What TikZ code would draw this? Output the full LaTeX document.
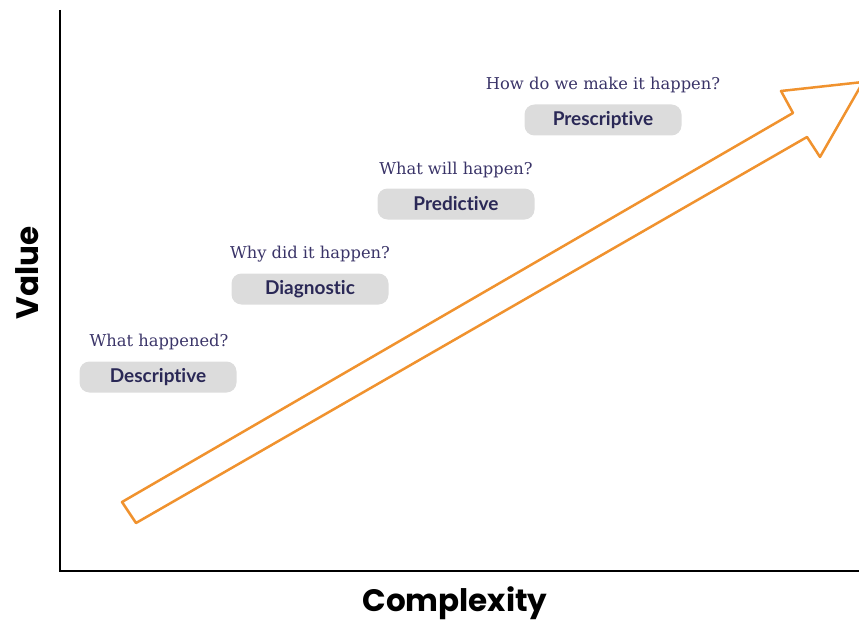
\documentclass[tikz,border=0pt]{standalone}
\usepackage{fontspec}
\setmainfont{DejaVu Serif}
\newfontfamily\pillfont[Ligatures=NoCommon]{Lato}
\newfontfamily\axisfont{Poppins}
\definecolor{arroworange}{HTML}{F0922E}
\definecolor{pillgray}{HTML}{DCDCDC}
\definecolor{inkpurple}{HTML}{3A3468}
\definecolor{pillink}{HTML}{2A2856}
\tikzset{
    pill/.style = {rounded corners=10pt, fill=pillgray, minimum width=157pt, minimum height=31pt,
                   inner sep=0pt, text=pillink, font=\pillfont\bfseries\fontsize{19}{22}\selectfont},
    question/.style = {text=inkpurple, inner sep=0pt, font=\fontsize{16.3}{19}\selectfont},
    axislabel/.style = {font=\axisfont\bfseries\fontsize{31}{36}\selectfont}
}

\begin{document}
\begin{tikzpicture}[x=1pt,y=-1pt]
        \useasboundingbox (0,0) rectangle (859,623);

        \coordinate (o) at (60,571);
        \coordinate (top) at (60,10);
        \coordinate (right) at (859,571);
        \draw[line width=2pt] (top) -- (o) -- (right);

        \node[axislabel, rotate=90] (value) at (27,273) {Value};
        \node[axislabel] (complexity) at (455,603) {Complexity};

        % the big hollow arrow
        \coordinate (t1) at (122,502);
        \coordinate (t2) at (136,523);
        \coordinate (n2) at (807,137);
        \coordinate (h2) at (820,157);
        \coordinate (tip) at (863,82);
        \coordinate (h1) at (781,91);
        \coordinate (n1) at (793,113);
        \draw[arroworange, line width=2.5pt, line join=round]
            (t1) -- (t2) -- (n2) -- (h2) -- (tip) -- (h1) -- (n1) -- cycle;

        \node[pill] (descriptive) at (158,377) {Descriptive};
        \node[pill] (diagnostic) at (310,289) {Diagnostic};
        \node[pill] (predictive) at (456,204) {Predictive};
        \node[pill] (prescriptive) at (603,120) {Prescriptive};

        \node[question] (q1) at (159,342) {What happened?};
        \node[question] (q2) at (310,254) {Why did it happen?};
        \node[question] (q3) at (456,170) {What will happen?};
        \node[question] (q4) at (603,85) {How do we make it happen?};
    \end{tikzpicture}
\end{document}
